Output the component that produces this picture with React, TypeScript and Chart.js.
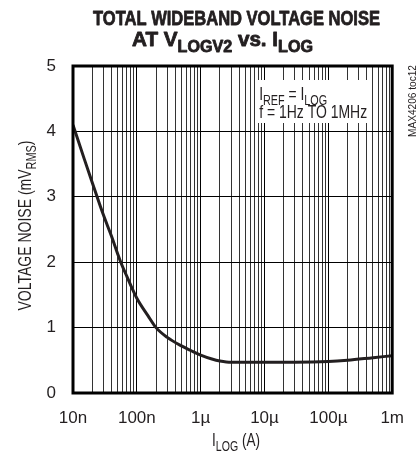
import React, { useEffect, useRef } from "react";
import { Chart, registerables } from "chart.js";

Chart.register(...registerables);

// ---- data ----
const CURRENT_A = [
  1e-8, 1.5e-8, 2e-8, 3e-8, 4e-8, 5e-8, 5.6e-8, 7e-8, 1e-7, 1.5e-7, 2e-7, 3e-7,
  5e-7, 7e-7, 1e-6, 1.5e-6, 2e-6, 3e-6, 5e-6, 1e-5, 3e-5, 1e-4, 2e-4, 5e-4, 1e-3,
];
const NOISE_MV = [
  4.1, 3.58, 3.22, 2.72, 2.4, 2.13, 2.0, 1.78, 1.45, 1.18, 1.0, 0.85,
  0.72, 0.65, 0.58, 0.52, 0.49, 0.47, 0.47, 0.47, 0.47, 0.48, 0.5, 0.54, 0.57,
];
const DECADE_EXPONENTS = [-8, -7, -6, -5, -4, -3];
const X_TICK_LABELS = ["10n", "100n", "1\u00b5", "10\u00b5", "100\u00b5", "1m"];
const MINOR_MULTIPLIERS = [1, 2, 3, 4, 5, 6, 7, 8, 9];
const Y_MIN = 0;
const Y_MAX = 5;

const FONT = '"Liberation Sans Narrow", "Arial Narrow", "Liberation Sans", Arial, sans-serif';
const INK = "#231f20";

type Seg = { t: string; sub?: boolean };

function drawRich(
  ctx: CanvasRenderingContext2D,
  segs: Seg[],
  x: number,
  y: number,
  o: { size: number; bold?: boolean; align?: "left" | "center"; width?: number; stroke?: number }
) {
  const subSize = o.size * 0.78;
  const fontFor = (s: Seg) => `${o.bold ? "bold " : ""}${s.sub ? subSize : o.size}px ${FONT}`;
  const widths = segs.map((s) => {
    ctx.font = fontFor(s);
    return ctx.measureText(s.t).width;
  });
  const total = widths.reduce((a, b) => a + b, 0);
  const k = o.width ? o.width / total : 1;
  ctx.save();
  ctx.translate(x, y);
  ctx.scale(k, 1);
  ctx.textBaseline = "alphabetic";
  ctx.textAlign = "left";
  if (o.stroke) {
    ctx.strokeStyle = ctx.fillStyle as string;
    ctx.lineWidth = o.stroke;
    ctx.lineJoin = "round";
  }
  let cx = o.align === "center" ? -total / 2 : 0;
  segs.forEach((s, i) => {
    ctx.font = fontFor(s);
    const yy = s.sub ? o.size * 0.28 : 0;
    ctx.fillText(s.t, cx, yy);
    if (o.stroke) ctx.strokeText(s.t, cx, yy);
    cx += widths[i];
  });
  ctx.restore();
}

function isMajor(v: number) {
  const l = Math.log10(v);
  return Math.abs(l - Math.round(l)) < 1e-6;
}

const overlay = {
  id: "overlay",
  beforeDatasetsDraw(chart: any) {
    const { ctx, chartArea: a } = chart;
    ctx.save();
    ctx.fillStyle = "#fff";
    ctx.fillRect(a.right - 137, a.top + 14, 114, 43);
    ctx.fillStyle = INK;
    drawRich(ctx, [{ t: "I" }, { t: "REF", sub: true }, { t: " = I" }, { t: "LOG", sub: true }], a.right - 133, a.top + 34, { size: 19, width: 68 });
    drawRich(ctx, [{ t: "f = 1Hz TO 1MHz" }], a.right - 133, a.top + 52, { size: 19, width: 108 });
    ctx.restore();
  },
  afterDraw(chart: any) {
    const { ctx, chartArea: a } = chart;
    ctx.save();
    // frame
    ctx.strokeStyle = "#000";
    ctx.lineWidth = 3;
    ctx.strokeRect(a.left, a.top, a.right - a.left, a.bottom - a.top);
    ctx.fillStyle = INK;
    // title
    drawRich(ctx, [{ t: "TOTAL WIDEBAND VOLTAGE NOISE" }], 236.5, 25, { size: 20, bold: true, align: "center", width: 287, stroke: 0.8 });
    drawRich(
      ctx,
      [{ t: "AT V" }, { t: "LOGV2", sub: true }, { t: " vs. I" }, { t: "LOG", sub: true }],
      222.5,
      46,
      { size: 20, bold: true, align: "center", width: 181, stroke: 0.8 }
    );
    // x title
    drawRich(ctx, [{ t: "I" }, { t: "LOG", sub: true }, { t: " (A)" }], 236, 446, { size: 18, align: "center", width: 48 });
    // y title
    ctx.save();
    ctx.translate(31, (a.top + a.bottom) / 2 - 4);
    ctx.rotate(-Math.PI / 2);
    drawRich(ctx, [{ t: "VOLTAGE NOISE (mV" }, { t: "RMS", sub: true }, { t: ")" }], 0, 0, { size: 18, align: "center", width: 170 });
    ctx.restore();
    // side note
    ctx.save();
    ctx.translate(416, 101);
    ctx.rotate(-Math.PI / 2);
    drawRich(ctx, [{ t: "MAX4206 toc12" }], 0, 0, { size: 10, align: "center", width: 72 });
    ctx.restore();
    ctx.restore();
  },
};

export default function App() {
  const ref = useRef<HTMLCanvasElement>(null);
  useEffect(() => {
    document.body.style.margin = "0";
    const tickValues: number[] = [];
    DECADE_EXPONENTS.forEach((e, i) => {
      if (i === DECADE_EXPONENTS.length - 1) {
        tickValues.push(Math.pow(10, e));
      } else {
        MINOR_MULTIPLIERS.forEach((m) => tickValues.push(m * Math.pow(10, e)));
      }
    });
    const chart = new Chart(ref.current!, {
      type: "line",
      data: {
        datasets: [
          {
            data: CURRENT_A.map((x, i) => ({ x, y: NOISE_MV[i] })),
            borderColor: INK,
            borderWidth: 3,
            pointRadius: 0,
            cubicInterpolationMode: "monotone",
            fill: false,
          },
        ],
      },
      options: {
        responsive: false,
        animation: false,
        devicePixelRatio: 1,
        layout: { padding: { top: 66, right: 19, left: 0, bottom: 0 } },
        plugins: { legend: { display: false }, tooltip: { enabled: false }, title: { display: false } },
        scales: {
          x: {
            type: "logarithmic",
            min: Math.pow(10, DECADE_EXPONENTS[0]),
            max: Math.pow(10, DECADE_EXPONENTS[DECADE_EXPONENTS.length - 1]),
            afterBuildTicks: (s: any) => {
              s.ticks = tickValues.map((v) => ({ value: v, major: isMajor(v) }));
            },
            afterFit: (s: any) => {
              s.height = 58;
            },
            border: { display: false },
            grid: {
              drawTicks: false,
              lineWidth: 1,
              color: (c: any) => (c.tick && isMajor(c.tick.value) ? "#000" : "#333"),
            },
            ticks: {
              autoSkip: false,
              maxRotation: 0,
              minRotation: 0,
              padding: 15,
              color: INK,
              font: { family: FONT, size: 17 },
              callback: (v: any) => {
                const n = Number(v);
                if (!isMajor(n)) return "";
                const idx = DECADE_EXPONENTS.indexOf(Math.round(Math.log10(n)));
                return idx >= 0 ? X_TICK_LABELS[idx] : "";
              },
            },
          },
          y: {
            type: "linear",
            min: Y_MIN,
            max: Y_MAX,
            afterFit: (s: any) => {
              s.width = 73;
            },
            border: { display: false },
            grid: { drawTicks: false, lineWidth: 1, color: "#000" },
            ticks: {
              stepSize: 1,
              padding: 17,
              color: INK,
              font: { family: FONT, size: 17 },
            },
          },
        },
      },
      plugins: [overlay],
    } as any);
    return () => chart.destroy();
  }, []);
  return <canvas ref={ref} width={419} height={451} style={{ display: "block", width: 419, height: 451 }} />;
}
